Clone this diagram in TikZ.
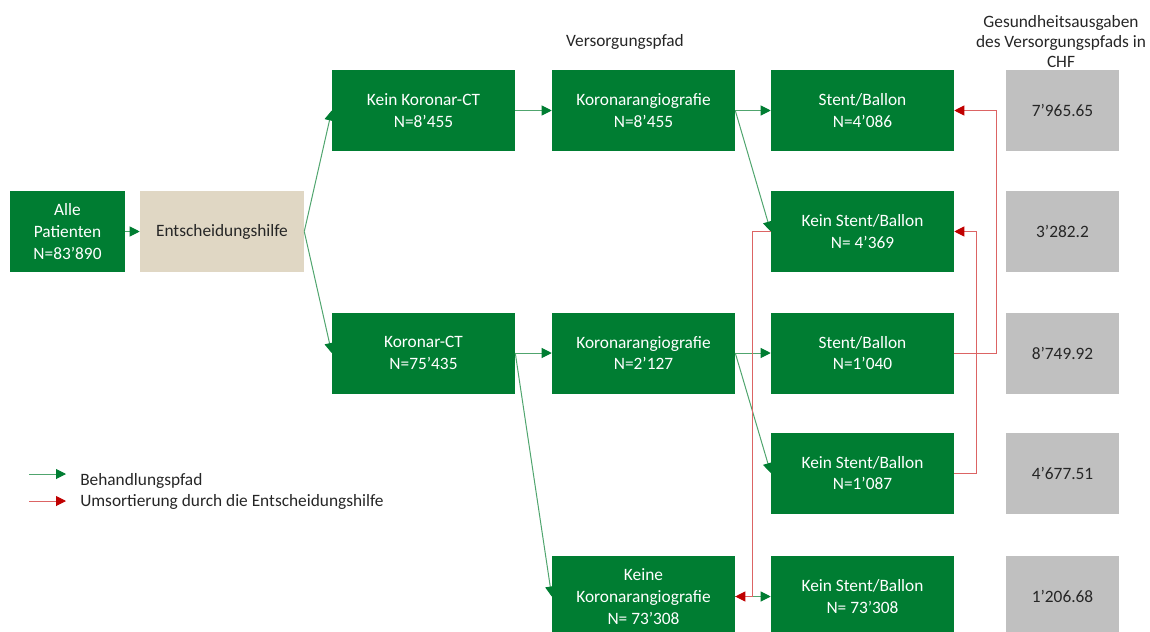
\documentclass[tikz,border=0pt]{standalone}
\usepackage{fontspec}
\setmainfont{Carlito}
\usetikzlibrary{arrows.meta, positioning}

\definecolor{pfadgreen}{RGB}{0,125,50}
\definecolor{pfadline}{RGB}{80,165,110}
\definecolor{sortred}{RGB}{192,0,0}
\definecolor{sortline}{RGB}{220,100,100}
\definecolor{hilfebeige}{RGB}{224,215,196}
\definecolor{costgray}{RGB}{192,192,192}
\definecolor{labeltext}{RGB}{38,38,38}

\begin{document}
\begin{tikzpicture}[x=0.75pt, y=-0.75pt,
	every node/.append style={font=\fontsize{13}{16.2}\selectfont, align=center, inner sep=0pt},
	pfadbox/.style={fill=pfadgreen, text=white, minimum width=137.25pt, minimum height=60.75pt},
	costbox/.style={fill=costgray, text=labeltext, minimum width=84.75pt, minimum height=60.75pt},
	pfad/.style={draw=pfadline, line width=0.75pt, -{Triangle[length=7.5pt, width=7.5pt, color=pfadgreen]}},
	sort/.style={draw=sortline, line width=0.75pt, -{Triangle[length=7.5pt, width=7.5pt, color=sortred]}}]
	\useasboundingbox (0,0) rectangle (1150,632);

	% headers
	\node[text=labeltext] (hdrpfad) at (625,42) {Versorgungspfad};
	\node[text=labeltext, font=\fontsize{13}{15}\selectfont] (hdrkosten) at (1061,42) {Gesundheitsausgaben\\des Versorgungspfads in\\CHF};

	% start
	\node[pfadbox, minimum width=86.25pt] (alle) at (67.5,231.5) {Alle\\Patienten\\N=83’890};
	\node[fill=hilfebeige, text=labeltext, minimum width=123pt, minimum height=60.75pt] (hilfe) at (222,231.5) {Entscheidungshilfe};

	% CT
	\node[pfadbox] (keinct) at (423.5,110.5) {Kein Koronar-CT\\N=8’455};
	\node[pfadbox] (ct) at (423.5,353) {Koronar-CT\\N=75’435};

	% Koronarangiografie
	\node[pfadbox] (koroA) at (643.5,110.5) {Koronarangiografie\\N=8’455};
	\node[pfadbox] (koroB) at (643.5,353) {Koronarangiografie\\N=2’127};
	\node[pfadbox] (koroC) at (643.5,596.5) {Keine\\Koronarangiografie\\N= 73’308};

	% Stent
	\node[pfadbox] (stentA) at (862.5,110.5) {Stent/Ballon\\N=4’086};
	\node[pfadbox] (keinA) at (862.5,231.5) {Kein Stent/Ballon\\N= 4’369};
	\node[pfadbox] (stentB) at (862.5,353) {Stent/Ballon\\N=1’040};
	\node[pfadbox] (keinB) at (862.5,473) {Kein Stent/Ballon\\N=1’087};
	\node[pfadbox] (keinC) at (862.5,596.5) {Kein Stent/Ballon\\N= 73’308};

	% Kosten
	\node[costbox] (kostA) at (1062.5,110.5) {7’965.65};
	\node[costbox] (kostB) at (1062.5,231.5) {3’282.2};
	\node[costbox] (kostC) at (1062.5,353) {8’749.92};
	\node[costbox] (kostD) at (1062.5,473) {4’677.51};
	\node[costbox] (kostE) at (1062.5,596.5) {1’206.68};

	% Behandlungspfad
	\draw[pfad] (alle) -- (hilfe);
	\draw[pfad] (hilfe.east) -- (keinct.west);
	\draw[pfad] (hilfe.east) -- (ct.west);
	\draw[pfad] (keinct) -- (koroA);
	\draw[pfad] (ct) -- (koroB);
	\draw[pfad] (ct.east) -- (koroC.west);
	\draw[pfad] (koroA) -- (stentA);
	\draw[pfad] (koroA.east) -- (keinA.west);
	\draw[pfad] (koroB) -- (stentB);
	\draw[pfad] (koroB.east) -- (keinB.west);
	\draw[pfad] (koroC) -- (keinC);

	% Umsortierung
	\draw[sort] (keinA.west) -- ++(-18,0) |- (koroC.east);
	\draw[sort] (stentB.east) -- ++(42,0) |- (stentA.east);
	\draw[sort] (keinB.east) -- ++(22,0) |- (keinA.east);

	% legend
	\coordinate (legpfad) at (29,474);
	\coordinate (legsort) at (29,501);
	\draw[pfad] (legpfad) -- ++(37,0);
	\draw[sort] (legsort) -- ++(37,0);
	\node[anchor=west, text=labeltext] (txtpfad) at (80,481) {Behandlungspfad};
	\node[anchor=west, text=labeltext] (txtsort) at (80,502) {Umsortierung durch die Entscheidungshilfe};
\end{tikzpicture}
\end{document}
